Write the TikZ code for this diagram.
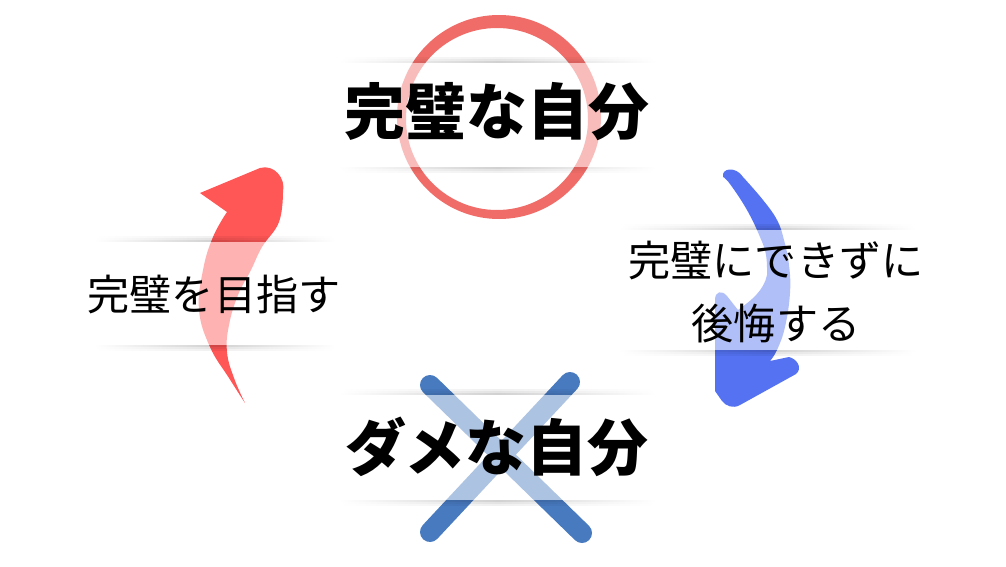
\documentclass[tikz,border=0pt]{standalone}
\usepackage{fontspec}
\newfontfamily\jpfont{Noto Sans CJK JP}
\usetikzlibrary{fadings}
\tikzfading[name=fade ends,left color=transparent!100,right color=transparent!100,middle color=transparent!0]
\definecolor{circlered}{RGB}{240,108,104}
\definecolor{arrowred}{RGB}{255,86,86}
\definecolor{arrowblue}{RGB}{84,114,242}
\definecolor{crossblue}{RGB}{72,122,192}

\begin{document}
\begin{tikzpicture}[x=0.3mm,y=-0.3mm,
  band/.style={fill=white,fill opacity=0.55},
  shadow/.style={fill=black,path fading=fade ends},
  title/.style={font=\jpfont\bfseries\fontsize{52}{60}\selectfont},
  label/.style={font=\jpfont\fontsize{36}{54}\selectfont,align=center}]
\fill[white] (0,0) rectangle (1006,566);
\useasboundingbox (0,0) rectangle (1006,566);
% brush circle and cross
\fill[circlered,even odd rule] (499,117) circle[radius=102] (497,119) circle[radius=91];
\draw[crossblue,line width=6mm,line cap=round] (430,385) -- (582,533) (570,382) -- (430,532);
% arrows
\fill[arrowred] plot[smooth,tension=0.7] coordinates {(245,403) (229,378) (210,347) (199,310) (203,270) (213,237) (227,212)}
  -- (200,193) -- (260,168) .. controls (274,164) and (286,178) .. (283,192)
  -- plot[smooth,tension=0.7] coordinates {(283,192) (279,222) (262,247) (251,270) (238,295) (229,325) (227,352) (234,378) (245,403)} -- cycle;
\fill[arrowblue] (723,177) .. controls (721,168) and (736,166) .. (743,177)
  -- plot[smooth,tension=0.7] coordinates {(743,177) (763,200) (777,220) (784,240) (789,265) (790,293) (785,327) (777,350) (770,361)}
  -- (789,357) .. controls (797,359) and (803,368) .. (796,374)
  -- (740,405) .. controls (733,409) and (726,406) .. (722,401)
  -- (715,391) -- (715,300) .. controls (715,291) and (722,290) .. (727,296)
  -- (738,310) .. controls (752,300) and (764,290) .. (767,275)
  -- plot[smooth,tension=0.7] coordinates {(767,275) (766,255) (760,237) (747,210) (730,184) (723,177)} -- cycle;
% text bands
\foreach \xa/\ya/\xb/\yb in {340/63/655/167,95/242/335/345,620/230/915/350,340/395/655/500}{
  \fill[band] (\xa,\ya) rectangle (\xb,\yb);
  \foreach \d/\o in {0/0.18,2/0.11,4/0.06}{
    \fill[shadow,opacity=\o] (\xa,\ya-\d) rectangle (\xb,\ya-\d-2);
    \fill[shadow,opacity=\o] (\xa,\yb+\d) rectangle (\xb,\yb+\d+2);
  }
}
\node[title] (perfect) at (497,112) {完璧な自分};
\node[title] (failure) at (497,447) {ダメな自分};
\node[label] (aim) at (214,295) {完璧を目指す};
\node[label] (regret) at (776,292) {完璧にできずに\\後悔する};
\end{tikzpicture}
\end{document}
